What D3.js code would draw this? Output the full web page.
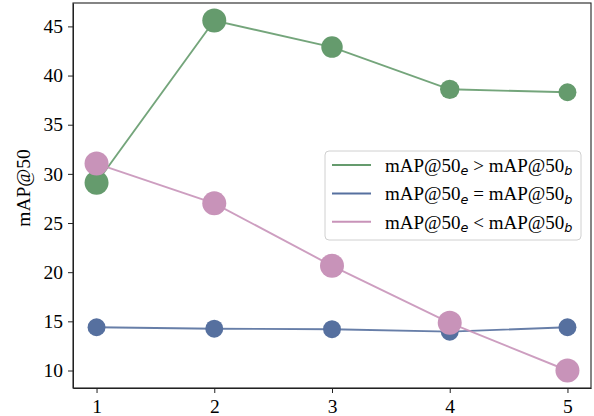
<!DOCTYPE html>
<html lang="en">
<head>
    <meta charset="UTF-8">
    <title>mAP@50 by step</title>
    <style>
        body { margin: 0; background: #fff; }
        svg text { font-family: "Liberation Serif", "Times New Roman", Times, "Nimbus Roman", Tinos, serif; fill: #000; }
        .axis path, .axis line { stroke: #222; }
    </style>
</head>
<body>
    <svg id="chart" width="594" height="416"></svg>

    <script src="https://cdnjs.cloudflare.com/ajax/libs/d3/7.8.5/d3.min.js"></script>
    <script>
        // x positions
        const steps = [1, 2, 3, 4, 5];
        const yTicks = [10, 15, 20, 25, 30, 35, 40, 45];

        // mAP@50 values
        const greaterValues = [29.1, 45.6, 42.9, 38.6, 38.3];
        const equalValues = [14.4, 14.25, 14.2, 13.95, 14.4];
        const lessValues = [31.05, 27.0, 20.65, 14.85, 10.0];

        // relative marker weight (area) for each point
        const greaterWeight = [1, 1, 0.8, 0.65, 0.56];
        const equalWeight = [0.56, 0.56, 0.56, 0.56, 0.56];
        const lessWeight = [1, 1, 1, 1, 1];

        const seriesNames = ['>', '=', '<'];

        var serif = '"Liberation Serif", "Times New Roman", Times, "Nimbus Roman", Tinos, serif';

        var svg = d3.select('#chart');
        var margin = { left: 73, right: 3, top: 3, bottom: 28 };
        var width = +svg.attr('width'),
            height = +svg.attr('height');

        var x = d3.scaleLinear().domain([0.8, 5.2]).range([margin.left, width - margin.right]);
        // 5% padding around the data range, like matplotlib
        var allY = greaterValues.concat(equalValues, lessValues);
        var yMin = d3.min(allY), yMax = d3.max(allY), pad = (yMax - yMin) * 0.05;
        var y = d3.scaleLinear().domain([yMin - pad, yMax + pad]).range([height - margin.bottom, margin.top]);
        var r = d3.scaleSqrt().domain([0, 1]).range([0, 12]);

        var series = [
            { name: seriesNames[0], values: greaterValues, weight: greaterWeight, color: '#659b6d' },
            { name: seriesNames[1], values: equalValues, weight: equalWeight, color: '#56709f' },
            { name: seriesNames[2], values: lessValues, weight: lessWeight, color: '#c893b9' }
        ];

        // axes
        svg.append('g')
            .attr('class', 'axis')
            .attr('transform', 'translate(0,' + (height - margin.bottom) + ')')
            .call(d3.axisBottom(x).tickValues(steps).tickFormat(d3.format('d'))
                .tickSize(5).tickPadding(6).tickSizeOuter(0));
        svg.append('g')
            .attr('class', 'axis')
            .attr('transform', 'translate(' + margin.left + ',0)')
            .call(d3.axisLeft(y).tickValues(yTicks).tickFormat(d3.format('d'))
                .tickSize(5).tickPadding(5).tickSizeOuter(0));
        svg.selectAll('.axis')
            .attr('font-family', serif)
            .attr('font-size', null);
        svg.selectAll('.axis text')
            .style('font-family', serif)
            .style('font-size', '19.5px')
            .attr('fill', '#000');

        // frame
        svg.append('rect')
            .attr('x', margin.left)
            .attr('y', margin.top)
            .attr('width', width - margin.left - margin.right)
            .attr('height', height - margin.top - margin.bottom)
            .attr('fill', 'none')
            .attr('stroke', '#222')
            .attr('stroke-width', 1.1);

        svg.append('text')
            .attr('transform', 'translate(26,188) rotate(-90)')
            .attr('text-anchor', 'middle')
            .attr('dominant-baseline', 'middle')
            .style('font-size', '19.5px')
            .text('mAP@50');

        var line = d3.line()
            .x(function (d, i) { return x(steps[i]); })
            .y(function (d) { return y(d); });

        series.forEach(function (s) {
            var g = svg.append('g');
            g.append('path')
                .datum(s.values)
                .attr('d', line)
                .attr('fill', 'none')
                .attr('stroke', s.color)
                .attr('stroke-width', 1.9)
                .attr('opacity', 0.9);
            g.selectAll('circle')
                .data(s.values)
                .enter()
                .append('circle')
                .attr('cx', function (d, i) { return x(steps[i]); })
                .attr('cy', function (d) { return y(d); })
                .attr('r', function (d, i) { return r(s.weight[i]); })
                .attr('fill', s.color);
        });

        // legend
        var legend = svg.append('g').attr('transform', 'translate(325,151)');
        legend.append('rect')
            .attr('width', 256)
            .attr('height', 89)
            .attr('rx', 4)
            .attr('fill', '#fff')
            .attr('fill-opacity', 0.85)
            .attr('stroke', '#d0d0d0');

        var item = legend.selectAll('g.item')
            .data(series)
            .enter()
            .append('g')
            .attr('class', 'item')
            .attr('transform', function (d, i) { return 'translate(0,' + (14 + i * 28.4) + ')'; });
        item.append('line')
            .attr('x1', 7).attr('x2', 46)
            .attr('stroke', function (d) { return d.color; })
            .attr('stroke-width', 2);
        var label = item.append('text')
            .attr('x', 60)
            .attr('y', 6.7)
            .style('font-size', '19px');
        label.append('tspan').text('mAP@50');
        label.append('tspan')
            .attr('dy', 3.6)
            .style('font-size', '12.8px')
            .style('font-style', 'italic')
            .style('font-family', '"DejaVu Sans", sans-serif')
            .text('e');
        label.append('tspan')
            .attr('dy', -3.6)
            .text(function (d) { return '\u00a0' + d.name + ' mAP@50'; });
        label.append('tspan')
            .attr('dy', 3.6)
            .style('font-size', '12.8px')
            .style('font-style', 'italic')
            .style('font-family', '"DejaVu Sans", sans-serif')
            .text('b');
    </script>
</body>
</html>
